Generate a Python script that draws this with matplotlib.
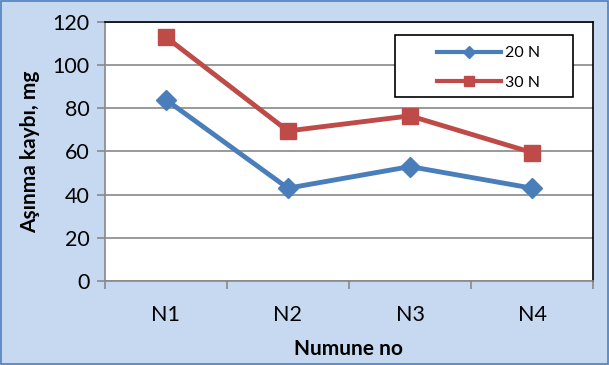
import numpy as np
import matplotlib.pyplot as plt

categories = ["N1", "N2", "N3", "N4"]
loss_20n = [84, 43, 53, 43]
loss_30n = [113, 69.5, 76.5, 59.5]

plt.rcParams["font.family"] = ["Lato", "DejaVu Sans"]

fig = plt.figure(figsize=(6.09, 3.65), dpi=100, facecolor="#C6D9F1")
ax = fig.add_axes([0.172, 0.230, 0.802, 0.710])
ax.set_facecolor("white")

x = np.arange(len(categories))
ax.plot(x, loss_20n, color="#4A7EBB", lw=3.5, marker="D", ms=10, label="20 N")
ax.plot(x, loss_30n, color="#BE4B48", lw=3.5, marker="s", ms=12, label="30 N")

ax.set_xlim(-0.5, 3.5)
ax.set_ylim(0, 120)
ax.set_yticks(range(0, 121, 20))
ax.set_xticks(x)
ax.set_xticklabels(categories)
ax.set_xticks(np.arange(-0.5, 3.6, 1), minor=True)
ax.tick_params(axis="x", which="major", length=0, labelsize=15.5, pad=17)
ax.tick_params(axis="x", which="minor", length=6, color="#888888", width=1.2)
ax.tick_params(axis="y", length=6, color="#888888", width=1.2, labelsize=15.5, pad=5)
ax.grid(axis="y", color="#888888", lw=1.2)
ax.set_axisbelow(True)

for side in ["left", "bottom"]:
    ax.spines[side].set_color("#888888")
    ax.spines[side].set_linewidth(1.2)
for side in ["top", "right"]:
    ax.spines[side].set_color("black")
    ax.spines[side].set_linewidth(1.2)

ax.set_xlabel("Numune no", fontsize=15, fontweight="bold", labelpad=10)
ax.set_ylabel("Aşınma kaybı, mg", fontsize=15, fontweight="bold", labelpad=9)

# legend box drawn separately so it can be wider than its content
ax.add_patch(plt.Rectangle((0.594, 0.710), 0.365, 0.240, transform=ax.transAxes,
                           facecolor="white", edgecolor="black", lw=1.2, zorder=4))
leg = ax.legend(loc="center", bbox_to_anchor=(0.785, 0.822), fontsize=11.5,
                markerscale=0.6, handlelength=4.0, handletextpad=0.25,
                frameon=False, labelspacing=0.95, borderaxespad=0)
leg.set_zorder(5)
for line in leg.get_lines():
    line.set_linewidth(3)

fig.patches.append(plt.Rectangle((0.001, 0.002), 0.997, 0.995, transform=fig.transFigure,
                                 fill=False, edgecolor="#4F81BD", lw=1.2))

fig.savefig("out.png", dpi=100, facecolor=fig.get_facecolor())
